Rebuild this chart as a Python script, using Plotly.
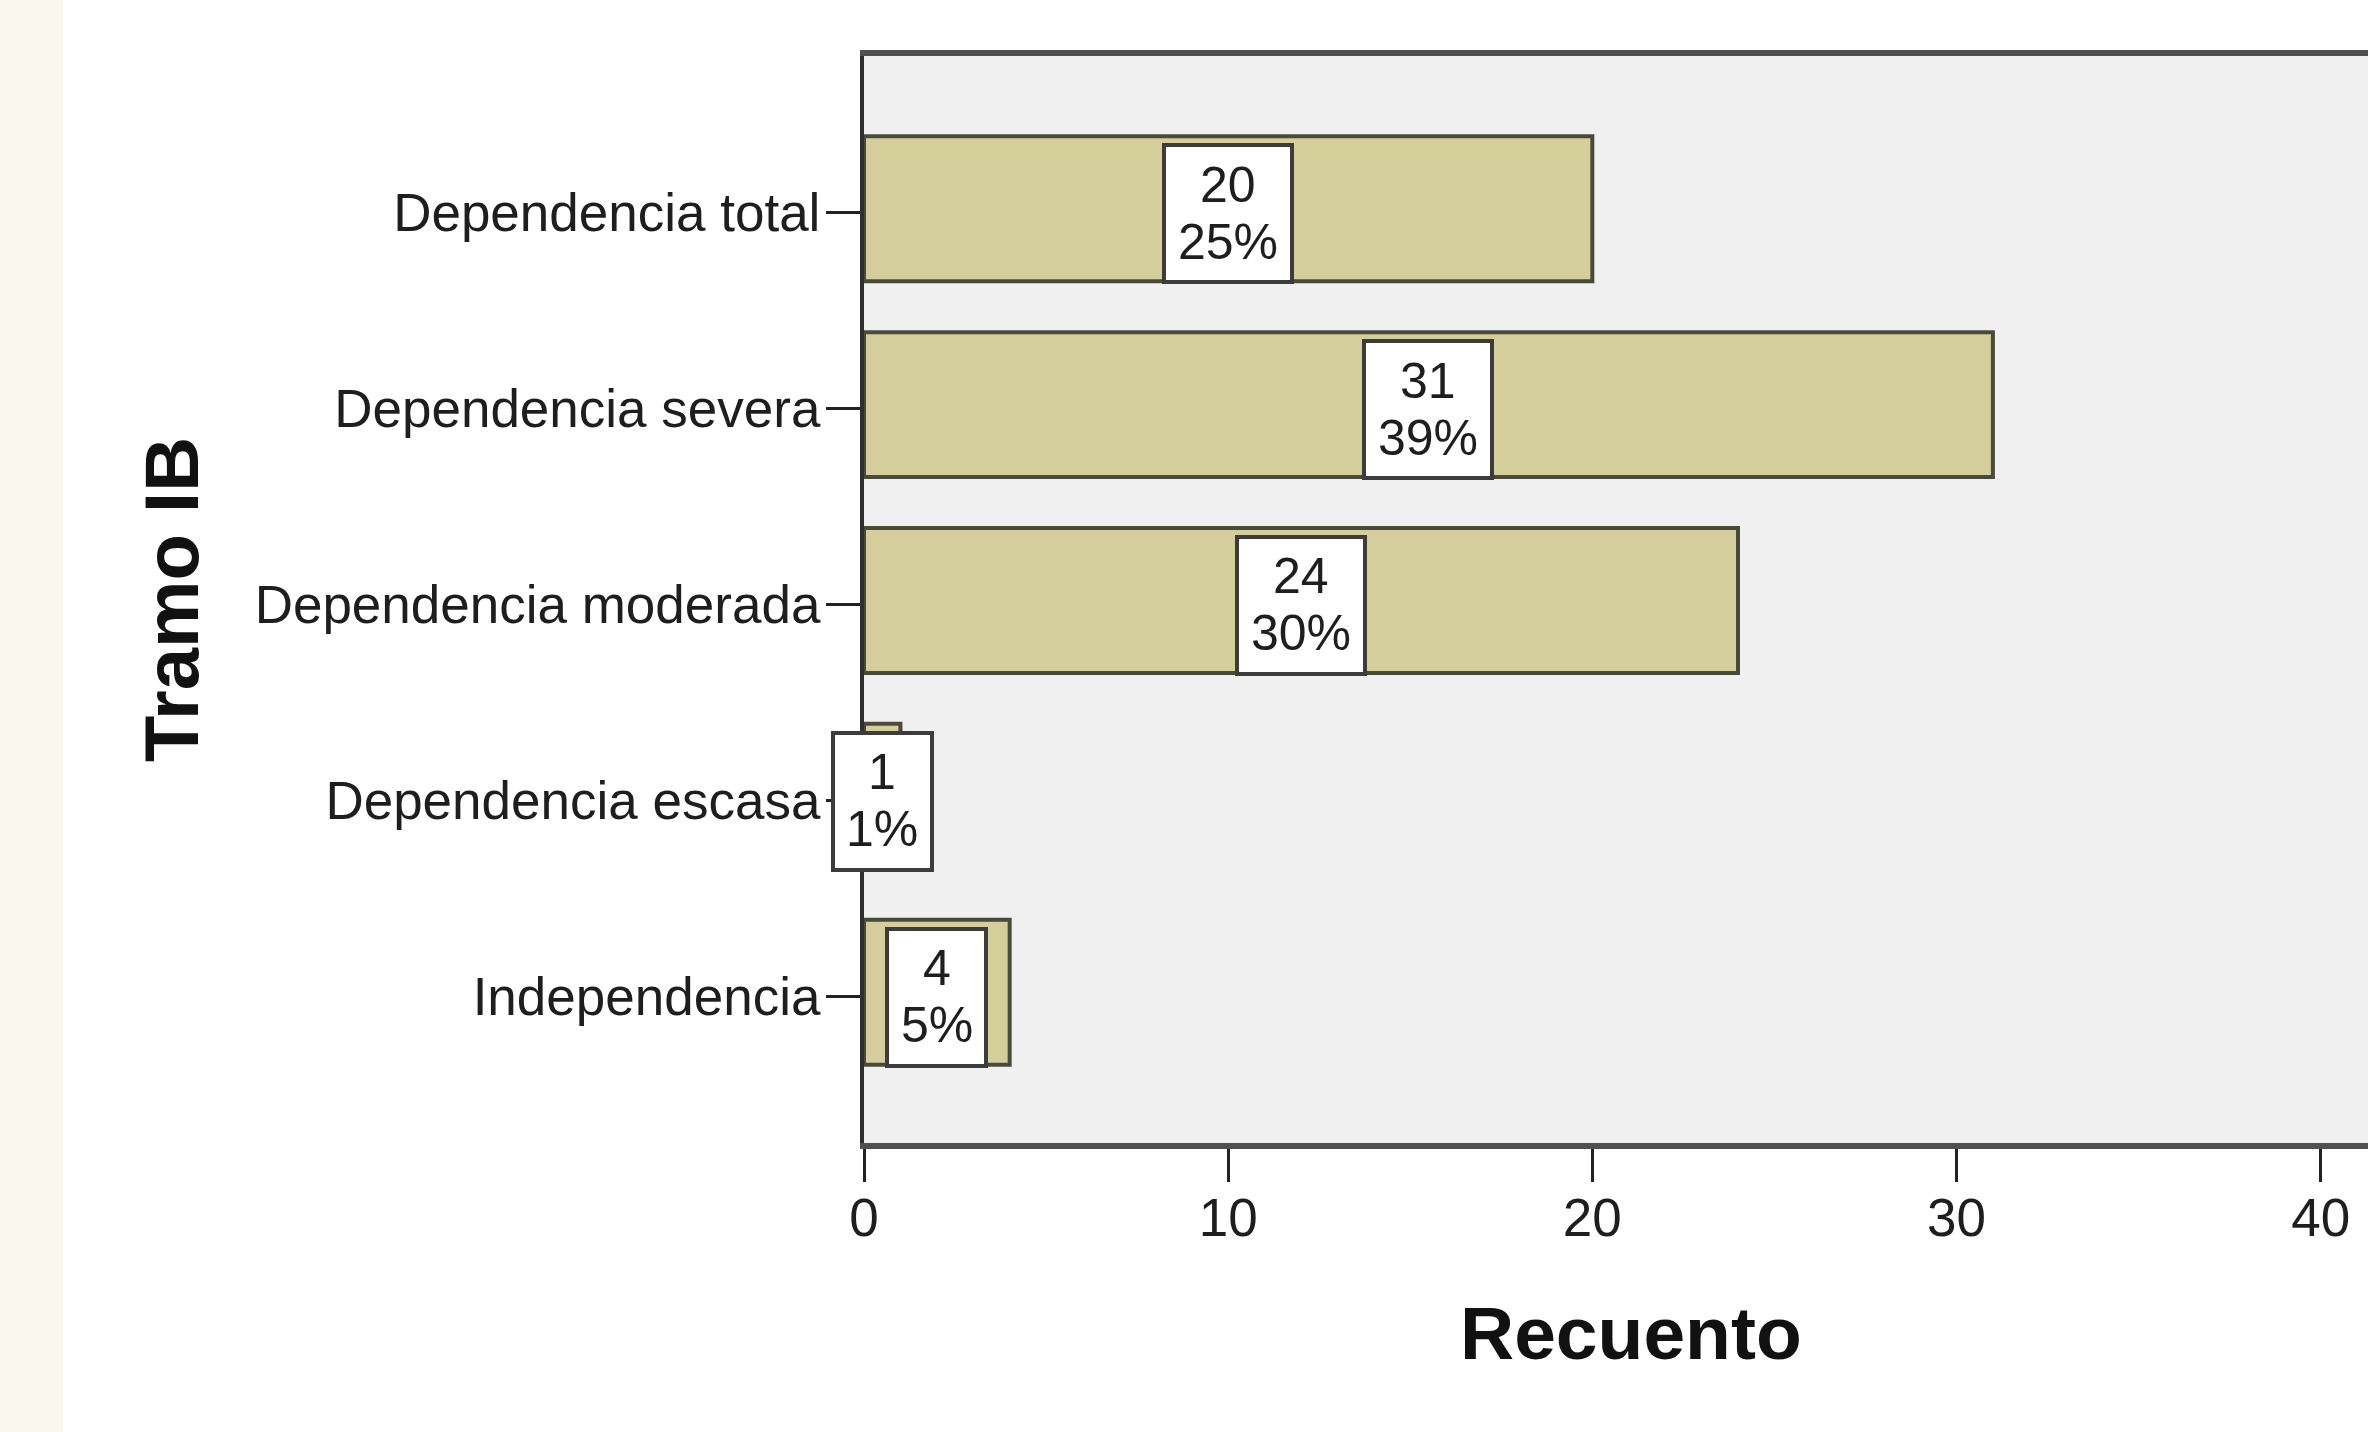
import plotly.graph_objects as go

# ---- data ----
categories = ["Independencia", "Dependencia escasa", "Dependencia moderada",
              "Dependencia severa", "Dependencia total"]
counts = [4, 1, 24, 31, 20]
percents = ["5%", "1%", "30%", "39%", "25%"]
x_ticks = [0, 10, 20, 30, 40]

W, H = 2368, 1432
ML, MT, MB = 864, 56, 289
PH = H - MT - MB
FONT = "Liberation Sans, Arial, sans-serif"
BAR_FILL = "#d3ce9a"
BAR_LINE = "#4a4a3c"
TEXT = "#1e1e1e"

fig = go.Figure()
fig.add_trace(go.Bar(
    y=categories, x=counts, orientation="h",
    width=0.74, offset=-0.35,
    marker=dict(color=BAR_FILL, line=dict(color=BAR_LINE, width=4)),
    hoverinfo="skip", showlegend=False,
))

annotations = []
for cat, c, p in zip(categories, counts, percents):
    box_w = 45 + 29 * len(p)
    # white label box
    annotations.append(dict(
        x=c / 2, y=cat, xref="x", yref="y", text=" ", showarrow=False,
        bgcolor="white", bordercolor="#3c3c3c", borderwidth=4, borderpad=0,
        width=box_w - 8, height=133, yshift=-1,
    ))
    annotations.append(dict(
        x=c / 2, y=cat, xref="x", yref="y", text=str(c), showarrow=False,
        yshift=28, font=dict(family=FONT, size=50, color=TEXT),
    ))
    annotations.append(dict(
        x=c / 2, y=cat, xref="x", yref="y", text=p, showarrow=False,
        yshift=-29, font=dict(family=FONT, size=50, color=TEXT),
    ))

# x-axis title
annotations.append(dict(
    x=(1631 - ML) / (W - ML), y=(H - MB - 1333) / PH, xref="paper", yref="paper",
    text="<b>Recuento</b>", showarrow=False, xanchor="center", yanchor="middle",
    font=dict(family=FONT, size=75, color="#111"),
))

# subtle cream strip at the left edge of the original screenshot
shapes = [dict(type="rect", xref="paper", yref="paper",
               x0=-ML / (W - ML), x1=(63 - ML) / (W - ML),
               y0=-MB / PH, y1=(H - MB) / PH,
               fillcolor="#f9f7ee", line=dict(width=0), layer="below")]

fig.update_layout(
    width=W, height=H,
    margin=dict(l=ML, r=0, t=MT, b=MB, pad=0),
    paper_bgcolor="white",
    plot_bgcolor="#f0f0f0",
    font=dict(family=FONT, color=TEXT),
    shapes=shapes,
    annotations=annotations,
    xaxis=dict(
        range=[0, 41.3], tickvals=x_ticks, ticktext=[str(v) for v in x_ticks],
        showgrid=False, zeroline=False,
        showline=True, mirror=True, linecolor="#505050", linewidth=6,
        ticks="outside", ticklen=33, tickwidth=3, tickcolor="#222",
        ticklabelstandoff=-10,
        tickfont=dict(family=FONT, size=53, color=TEXT),
    ),
    yaxis=dict(
        range=[-0.75, 4.80], categoryorder="array", categoryarray=categories,
        showgrid=False, zeroline=False,
        showline=True, linecolor="#2e2e2e", linewidth=4,
        ticks="outside", ticklen=34, tickwidth=3, tickcolor="#222",
        ticklabelstandoff=-5,
        tickfont=dict(family=FONT, size=53, color=TEXT),
        title=dict(text="<b>Tramo IB</b>", standoff=32,
                   font=dict(family=FONT, size=76, color="#111")),
    ),
)

fig.write_html("out.html", config={"displayModeBar": False},
               post_script="document.body.style.margin='0';document.body.style.overflow='hidden';")
